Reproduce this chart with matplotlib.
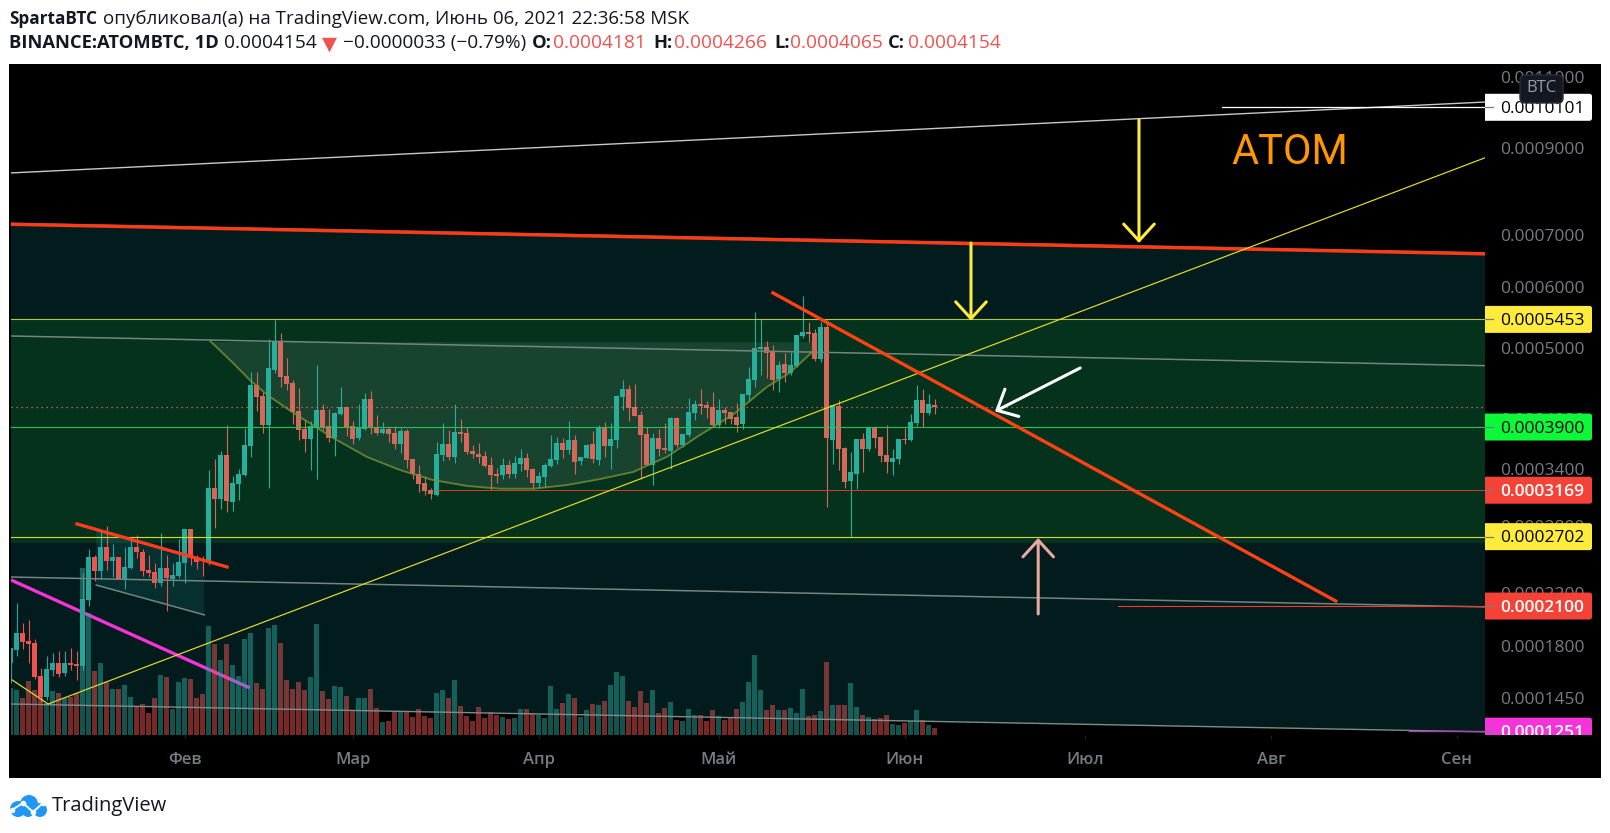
import numpy as np
import matplotlib
matplotlib.use("Agg")
import matplotlib.pyplot as plt
from matplotlib.patches import FancyBboxPatch, Circle, Rectangle
from matplotlib.ticker import NullLocator
from matplotlib.transforms import IdentityTransform

plt.rcParams['font.family'] = ['Open Sans', 'DejaVu Sans']

# ---------- data: prices in units of 0.0000001 BTC, days counted from 1 Jan 2021 ----------
first_day = 2
opens = [1683,1767,1892,1833,1818,1593,1455,1634,1678,1611,1678,1674,1656,2149,2512,2387,2604,2479,2512,2320,
         2418,2604,2558,2401,2381,2292,2415,2323,2349,2465,2773,2512,2488,2479,3194,3077,3563,3046,3236,3335,
         3669,4458,4306,3927,4672,5102,4585,4486,4107,3877,3752,3889,4120,3914,3765,4068,4159,3914,3765,3877,
         4265,3902,3827,3877,3827,3693,3852,3516,3346,3247,3172,3119,3563,3693,3539,3839,3827,3610,3575,3551,
         3448,3346,3335,3448,3346,3459,3527,3403,3247,3313,3437,3504,3705,3622,3740,3493,3527,3693,3504,3889,
         3669,3740,4292,4403,4159,4055,3818,3448,3765,3646,3610,4015,3677,3802,4081,4199,4185,4159,3927,4120,
         4094,4028,3939,4320,4527,4985,5015,4940,4541,4759,4628,4730,5186,5250,5234,4832,5331,3740,4172,3646,
         3269,3346,3752,3634,3889,3777,3563,3482,3516,3752,3740,3952,4251,4081,4181]
closes = [1783,1892,1828,1814,1588,1455,1638,1678,1607,1678,1667,1656,2154,2512,2387,2604,2479,2512,2320,2424,
          2604,2555,2392,2375,2292,2415,2331,2355,2468,2773,2503,2474,2479,3194,3077,3563,3056,3247,3346,3681,
          4458,4292,3927,4701,5102,4570,4472,4094,3865,3752,3914,4120,3889,3765,4081,4159,3902,3752,3902,4265,
          3889,3827,3877,3818,3693,3852,3504,3346,3236,3162,3130,3575,3693,3539,3839,3818,3598,3575,3539,3437,
          3335,3324,3448,3346,3470,3527,3391,3247,3324,3448,3516,3705,3622,3740,3482,3539,3681,3516,3902,3669,
          3752,4306,4403,4146,4042,3802,3448,3765,3634,3622,4015,3681,3818,4094,4199,4172,4146,3927,4120,4081,
          4002,3927,4334,4541,4996,5015,4915,4527,4745,4628,4745,5202,5250,5218,4832,5331,3765,4185,3634,3258,
          3369,3752,3634,3902,3765,3551,3482,3527,3752,3740,3964,4251,4081,4199,4154]
highs = [1783,2123,1967,1992,1847,1645,1725,1748,1762,1762,1788,1762,2372,2586,2534,2767,2805,2634,2512,2604,
         2697,2719,2586,2534,2459,2735,2534,2459,2677,2773,2773,2534,2525,3391,3516,3610,3927,3324,3403,3889,
         4643,4643,4361,5137,5443,5234,4847,4527,4417,3989,3977,4745,4199,4133,4094,4430,4159,3977,4199,4347,
         4375,4055,3964,3902,3914,3889,3877,3516,3448,3324,3194,3716,3952,3865,4199,4002,3902,3681,3705,3610,
         3539,3414,3527,3504,3551,3634,3587,3414,3369,3470,3802,3777,3765,3977,3802,3539,3693,3852,3927,3964,
         3952,4320,4527,4458,4472,4107,3898,3823,3877,3952,4028,4028,3818,4279,4251,4403,4238,4361,4265,4159,
         4094,4212,4334,4715,5578,5460,5107,5046,4803,4925,4940,5202,5849,5411,5298,5411,5443,4199,4251,3657,
         3598,3752,3827,3914,3914,3777,3927,3634,3752,3889,4068,4458,4403,4334,4266]
lows = [1545,1725,1779,1683,1575,1428,1438,1593,1588,1595,1629,1566,1634,2102,2308,2323,2401,2343,2320,2240,
        2407,2509,2349,2343,2250,2259,2057,2267,2334,2286,2439,2410,2349,2439,2786,2975,2944,2954,3066,3324,
        3539,4107,3827,3194,4628,4430,4389,3939,3740,3598,3391,3290,3865,3716,3551,4055,3790,3693,3740,3865,
        3818,3802,3818,3716,3634,3587,3414,3290,3151,3119,3077,3109,3493,3504,3470,3716,3575,3527,3470,3426,
        3172,3247,3290,3301,3301,3380,3313,3183,3194,3204,3426,3459,3527,3575,3346,3448,3527,3470,3448,3539,
        3403,3646,4120,3977,4042,3290,3441,3226,3551,3587,3403,3657,3657,3777,3989,4068,4015,3914,3889,3939,
        3939,3839,3877,4238,4430,4599,4556,4389,4361,4500,4599,4715,5154,5092,4803,4788,2995,3459,3391,3194,
        2702,3183,3369,3610,3646,3482,3354,3335,3459,3693,3728,3914,3902,4055,4065]
volumes = [141,135,111,162,135,120,95,132,126,111,115,125,501,365,192,216,159,138,138,150,
           114,84,93,66,111,180,174,78,159,171,168,111,123,327,273,225,273,210,177,288,
           306,156,138,321,330,276,165,138,159,135,174,333,132,108,147,144,117,72,111,111,
           138,81,39,42,69,72,72,54,78,57,51,126,135,111,165,87,57,42,84,51,
           69,60,54,48,51,78,78,66,60,51,147,78,96,123,111,55,75,93,90,102,
           150,189,177,102,84,132,96,135,66,81,99,45,42,78,60,60,42,75,57,45,
           51,78,99,159,240,135,75,90,75,75,81,66,138,57,60,72,219,90,90,90,
           156,84,60,54,48,51,60,33,30,36,42,75,45,30,21]

month_days = [31, 59, 90, 120, 151, 181, 212, 243]
month_labels = ['Фев', 'Мар', 'Апр', 'Май', 'Июн', 'Июл', 'Авг', 'Сен']

price_ticks = [11000, 9000, 7000, 6000, 5000, 4000, 3400, 2800, 2200, 1800, 1450]
tag_values = [10101, 5453, 3900, 3169, 2702, 2100, 1251]
tag_fills = ['#ffffff', '#ffeb3b', '#0cf93a', '#f44336', '#ffeb3b', '#f44336', '#f533d8']
tag_texts = ['#000000', '#000000', '#000000', '#ffffff', '#000000', '#ffffff', '#ffffff']

# drawings (day, price)
white_top_d, white_top_p = [1.8, 247.7], [8384, 10252]
white_flat_d, white_flat_p = [203.8, 247.7], [10101, 10101]
channel_d, channel_top, channel_bottom = [1.8, 247.7], [7230, 6630], [1413, 1247]
grey_mid_p, grey_low_p = [5185, 4733], [2339, 2093]
yellow_d, yellow_p = [2.2, 8.2, 247.7], [1566, 1413, 8758]
fall_d, fall_p = [129, 222.8], [5905, 2140]
flag_d, flag_p = [13, 38], [2824, 2426]
magenta_d, magenta_p = [2, 41.8], [2314, 1514]
flag_box_d = [16.2, 34.2, 34.2, 16.2]
flag_box_p = [2765, 2479, 2031, 2271]
cup_d = [35.2, 39, 41.8, 44.7, 49, 53, 55.7, 61.3, 66.8, 72.3, 78, 83.5, 89, 94.7, 100.2,
         105.7, 111.3, 116.8, 122.3, 128, 131.8, 135.7]
cup_p = [5105, 4774, 4527, 4320, 4085, 3890, 3765, 3540, 3391, 3279, 3215, 3185, 3185, 3225, 3290,
         3368, 3540, 3800, 4055, 4430, 4630, 4950]
cup_top = 5090
zone_top, zone_bottom = 5453, 2642
level_upper, level_mid, level_lower, level_thin, level_red, level_mag = 5453, 3900, 2702, 3169, 2100, 1251
last_close = 4154
arrow_yellow1 = ((190, 9746), (190, 6845))
arrow_yellow2 = ((162, 6845), (162, 5430))
arrow_pink = ((173.2, 2038), (173.2, 2690))
arrow_white = ((180.2, 4699), (166, 4100))

U = 1e-7
W, H = 1610, 833
fig = plt.figure(figsize=(W / 100, H / 100), dpi=100, facecolor='white')


def rect(x0, y0, x1, y1):
    return [x0 / W, 1 - y1 / H, (x1 - x0) / W, (y1 - y0) / H]


def T(x, y, s, **kw):
    kw.setdefault('va', 'center')
    kw.setdefault('color', '#131722')
    kw.setdefault('zorder', 10)
    fig.text(x / W, 1 - y / H, s, **kw)


fig.add_artist(Rectangle((9 / W, 1 - 778 / H), (1601 - 9) / W, (778 - 64) / H,
                         transform=fig.transFigure, fc='black', ec='none', zorder=-5))

ax = fig.add_axes(rect(11, 64, 1485, 735), facecolor='black')
ax.set_zorder(1)
fwd = lambda p: np.log(np.maximum(p, 1e-9) + 1e-4)
inv = lambda v: np.exp(v) - 1e-4
ax.set_yscale('function', functions=(fwd, inv))
XLIM = (2.0, 247.67)
YLIM = (1229 * U, 11401 * U)

days = np.arange(first_day, first_day + len(opens))
o, c, h, l = [np.array(a) * U for a in (opens, closes, highs, lows)]
up = c >= o

# zones
ax.fill_between(channel_d, np.array(channel_bottom) * U, np.array(channel_top) * U,
                color='#021c1e', lw=0, zorder=1)
ax.fill_between(XLIM, zone_bottom * U, zone_top * U, color='#001609', lw=0, zorder=1.1)
ax.fill(flag_box_d, np.array(flag_box_p) * U, color='#0a3f3f', alpha=0.55, lw=0, zorder=1.2)
ax.fill(cup_d + [cup_d[-1], cup_d[0]], np.array(cup_p + [cup_top, cup_top]) * U,
        color='#15291e', lw=0, zorder=1.2)

# lower drawings, behind the volume bars
ax.plot(magenta_d, np.array(magenta_p) * U, color='#f533d8', lw=2.4, zorder=1.5, solid_capstyle='butt')
ax.plot(channel_d, np.array(channel_bottom) * U, color='#7d8b89', lw=1.0, zorder=2.6)

# volume on its own scale: bar heights are a share of the pane height
vol_top = 2013
col = np.where(up, '#26a69a', '#ef5350')
ax.bar(days, np.array(volumes) / vol_top, width=5 / 6, bottom=0,
       color=col, alpha=0.5, lw=0, zorder=2.5, transform=ax.get_xaxis_transform())

# candles
ax.vlines(days, l, h, colors=col, lw=0.8, zorder=3)
ax.bar(days, np.abs(c - o), bottom=np.minimum(o, c), width=5 / 6, color=col, lw=0, zorder=3.1)
ax.fill_between(XLIM, zone_bottom * U, zone_top * U, color=(40 / 255, 1.0, 170 / 255),
                alpha=0.12, lw=0, zorder=3.5)

# upper drawings
ax.plot(white_top_d, np.array(white_top_p) * U, color='#c8c8c8', lw=1.0, zorder=4)
ax.plot(white_flat_d, np.array(white_flat_p) * U, color='white', lw=0.9, zorder=4)
ax.plot(channel_d, np.array(channel_top) * U * 1.003, color='#666666', lw=1.2, zorder=4)
ax.plot(channel_d, np.array(channel_top) * U, color='#ff3a14', lw=2.4, zorder=4.1)
ax.plot(channel_d, np.array(grey_mid_p) * U, color='#74857f', lw=1.1, zorder=4)
ax.plot(channel_d, np.array(grey_low_p) * U, color='#74857f', lw=1.1, zorder=4)
ax.plot(cup_d, np.array(cup_p) * U, color='#7b9438', lw=1.4, alpha=0.75, zorder=4)
ax.plot(flag_box_d[2:], np.array(flag_box_p[2:]) * U, color='#74857f', lw=1.1, zorder=4)
ax.axhline(level_upper * U, color='#b5c63e', lw=0.8, zorder=4)
ax.axhline(level_lower * U, color='#e0d820', lw=0.8, zorder=4)
ax.axhline(level_mid * U, color='#2bc04f', lw=0.8, zorder=4)
ax.plot([73, XLIM[1]], [level_thin * U] * 2, color='#c8402c', lw=0.75, zorder=4)
ax.plot([186.5, XLIM[1]], [level_red * U] * 2, color='#f03a2a', lw=0.8, zorder=4.2)
ax.plot([235, XLIM[1]], [level_mag * U] * 2, color='#b040b8', lw=1.0, zorder=4.2)
ax.plot(XLIM, [last_close * U] * 2, color='#ef7060', lw=0.9, ls=(0, (1, 3)), zorder=4)
ax.plot(yellow_d, np.array(yellow_p) * U, color='#e6de28', lw=0.85, zorder=4.3)
ax.plot(fall_d, np.array(fall_p) * U, color='#ff4214', lw=2.4, zorder=4.4)
ax.plot(flag_d, np.array(flag_p) * U, color='#ff3c1e', lw=2.4, zorder=4.4)


def arrow(seg, color):
    (x0, y0), (x1, y1) = seg
    ax.annotate('', xy=(x1, y1 * U), xytext=(x0, y0 * U), zorder=5,
                arrowprops=dict(arrowstyle='->,head_length=12,head_width=11', mutation_scale=1,
                                color=color, lw=2.2, shrinkA=0, shrinkB=0))


arrow(arrow_yellow1, '#ffeb3b')
arrow(arrow_yellow2, '#ffeb3b')
arrow(arrow_pink, '#e8a8a0')
arrow(arrow_white, '#ffffff')

ax.set_xlim(*XLIM)
ax.set_ylim(*YLIM)
ax.set_yticks([])
ax.yaxis.set_minor_locator(NullLocator())
ax.set_xticks(month_days, month_labels)
ax.tick_params(axis='x', length=3, width=0.8, color='#222222', labelcolor='#787b86',
               labelsize=12, pad=9)
for t in ax.get_xticklabels():
    t.set_fontweight(600)
for s in ax.spines.values():
    s.set_visible(False)

# price scale
axp = fig.add_axes(rect(1485, 64, 1601, 735), facecolor='black')
axp.set_zorder(2)
axp.set_yscale('function', functions=(fwd, inv))
axp.set_xlim(0, 116)
axp.set_ylim(*YLIM)
axp.set_xticks([])
axp.set_yticks([])
axp.yaxis.set_minor_locator(NullLocator())
for s in axp.spines.values():
    s.set_visible(False)


def price_text(value, color, zorder, weight='normal'):
    axp.annotate(f'{value * U:.7f}', xy=(15.5, value * U), xytext=(0, -1.3), textcoords='offset points',
                 color=color, fontsize=12.5, va='center', ha='left', zorder=zorder,
                 fontweight=weight, annotation_clip=True, clip_on=True)


for p in price_ticks:
    price_text(p, '#787b86', 2)
fig.canvas.draw()
for v, fc, tc in zip(tag_values, tag_fills, tag_texts):
    yd = axp.transData.transform((0, v * U))[1]
    axp.add_patch(FancyBboxPatch((1475, yd - 13.5), 117, 27, boxstyle='round,pad=0,rounding_size=2.5',
                                 fc=fc, ec='none', transform=IdentityTransform(), zorder=3))
    axp.plot([0, 8], [v * U, v * U], color='#787b86', lw=0.9, zorder=3.1)
    price_text(v, tc, 4, 600 if tc == '#ffffff' else 'normal')
axp.set_xlim(0, 116)
axp.set_ylim(*YLIM)

# BTC badge
badge = FancyBboxPatch((1520, H - 103), 43, 28, boxstyle='round,pad=0,rounding_size=5',
                       fc='#131722', ec='#2a2e39', lw=1, transform=IdentityTransform(), zorder=8)
fig.add_artist(badge)
T(1541.5, 88.5, 'BTC', ha='center', color='#9a9ca5', fontsize=12)
ax.annotate('ATOM', xy=(1289.5 / W, 1 - 152 / H), xycoords='figure fraction', ha='center', va='center',
            color='#ff9800', fontsize=30, family='Roboto', zorder=6)

# header
T(9, 19, 'SpartaBTC', fontsize=12.4, fontweight='bold')
T(103, 19, 'опубликовал(а) на TradingView.com, Июнь 06, 2021 22:36:58 MSK', fontsize=13.5)
T(9, 43, 'BINANCE:ATOMBTC, 1D', fontsize=13.2, fontweight='bold')
T(224, 43, '0.0004154', fontsize=13.8)
T(343, 43, '−0.0000033 (−0.79%)', fontsize=13.7)
T(329, 44, '▼', ha='center', fontsize=14, color='#ef5350', family='DejaVu Sans')
for xl, lab, xv, val in [(532, 'O:', 553, '0.0004181'), (653, 'H:', 674, '0.0004266'),
                         (774, 'L:', 790, '0.0004065'), (888, 'C:', 908, '0.0004154')]:
    T(xl, 43, lab, fontsize=13.2, fontweight='bold')
    T(xv, 43, val, fontsize=13.8, color='#ef5350')

# TradingView mark
blue = '#2196f3'
for cx, cy, r in [(18, 809, 8), (29, 804, 9), (40, 810, 7), (28, 811, 6)]:
    fig.add_artist(Circle((cx, H - cy), r, fc=blue, ec='none', transform=IdentityTransform()))
lx, ly = [12, 23, 33, 43], [810, 803, 812, 803]
fig.add_artist(plt.Line2D(lx, [H - v for v in ly], color='white', lw=1.4, transform=IdentityTransform(),
                          marker='o', ms=3, mfc='white', mec='white'))
T(52, 806, 'TradingView', fontsize=14.5)

fig.savefig('out.png', dpi=100, facecolor='white')
